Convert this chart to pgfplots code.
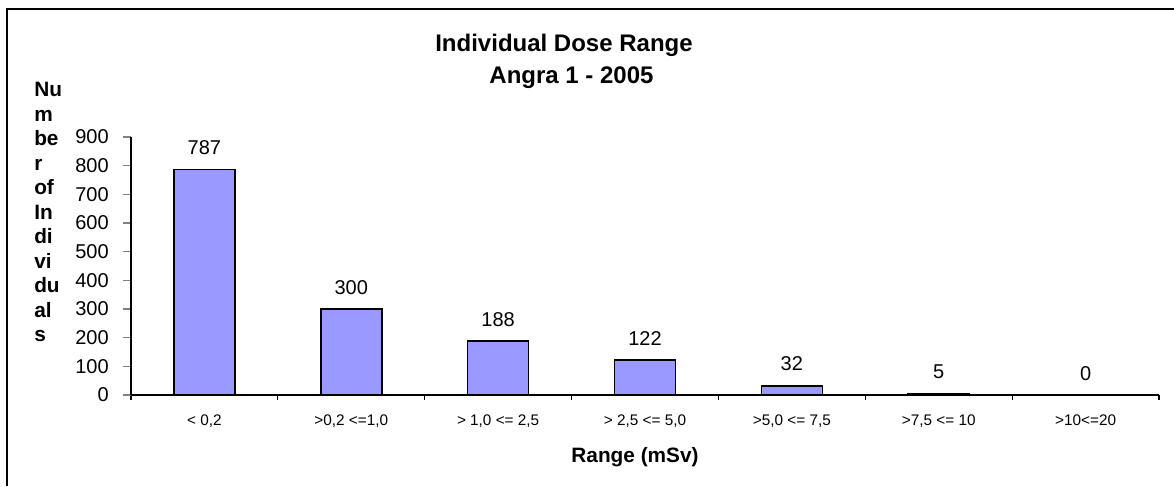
\documentclass[border=0pt]{standalone}
\usepackage{pgfplots}
\pgfplotsset{compat=1.18}
\usepackage{fontspec}
\setmainfont{Liberation Sans}
\definecolor{barfill}{RGB}{153,153,255}
\begin{document}
\begin{tikzpicture}
\path[use as bounding box] (0,0) rectangle (880.5pt,-364.5pt);
\draw[line width=1.1pt] (5.25pt,-364.5pt) -- (5.25pt,-6.75pt) -- (880.5pt,-6.75pt);
\begin{axis}[
  at={(98.25pt,-296.25pt)}, anchor=south west,
  scale only axis, width=771pt, height=193.5pt,
  xmin=0, xmax=7, ymin=0, ymax=900,
  clip=false,
  axis x line*=bottom, axis y line*=left,
  axis line style={-, line width=0.8pt, black},
  /pgf/number format/assume math mode=true,
  ytick={0,100,...,900},
  xtick={0,1,...,7},
  x tick label as interval=true,
  xticklabels={{< 0,2},{>0,2 <=1,0},{> 1,0 <= 2,5},{> 2,5 <= 5,0},{>5,0 <= 7,5},{>7,5 <= 10},{>10<=20}},
  tick align=outside,
  major tick length=6pt,
  ytick style={draw=gray, line width=0.9pt},
  xtick style={draw=black, line width=0.8pt, /pgfplots/major tick length=3.5pt},
  yticklabel style={font=\fontsize{15}{18}\selectfont, anchor=east, inner sep=0pt, xshift=-10.5pt},
  xticklabel style={font=\fontsize{11.5}{13}\selectfont, anchor=base, inner sep=0pt, yshift=-16.5pt},
  nodes near coords style={font=\fontsize{15}{18}\selectfont, anchor=base, yshift=11.25pt, inner sep=0pt},
]
\addplot[ybar, bar width=45.75pt, bar shift=0pt, draw=black, line width=1.1pt, fill=barfill, nodes near coords]
  coordinates {(0.5,787) (1.5,300) (2.5,188) (3.5,122) (4.5,32) (5.5,5)};
\addplot[ybar, bar width=45.75pt, bar shift=0pt, draw=none, fill=none, nodes near coords]
  coordinates {(6.5,0)};
\end{axis}
\node[anchor=base, font=\fontsize{18}{21}\selectfont\bfseries, inner sep=0pt] at (423pt,-38.25pt) {Individual Dose Range};
\node[anchor=base, font=\fontsize{18}{21}\selectfont\bfseries, inner sep=0pt] at (428.6pt,-62.25pt) {Angra 1 - 2005};
\node[anchor=base, font=\fontsize{15.6}{18}\selectfont\bfseries, inner sep=0pt] at (476.25pt,-346.5pt) {Range (mSv)};
\node[anchor=north west, align=left, font=\fontsize{15.6}{18.4}\selectfont\bfseries, inner sep=0pt] at (25.5pt,-61.5pt)
  {Nu\\m\\be\\r\\of\\In\\di\\vi\\du\\al\\s};
\end{tikzpicture}
\end{document}
